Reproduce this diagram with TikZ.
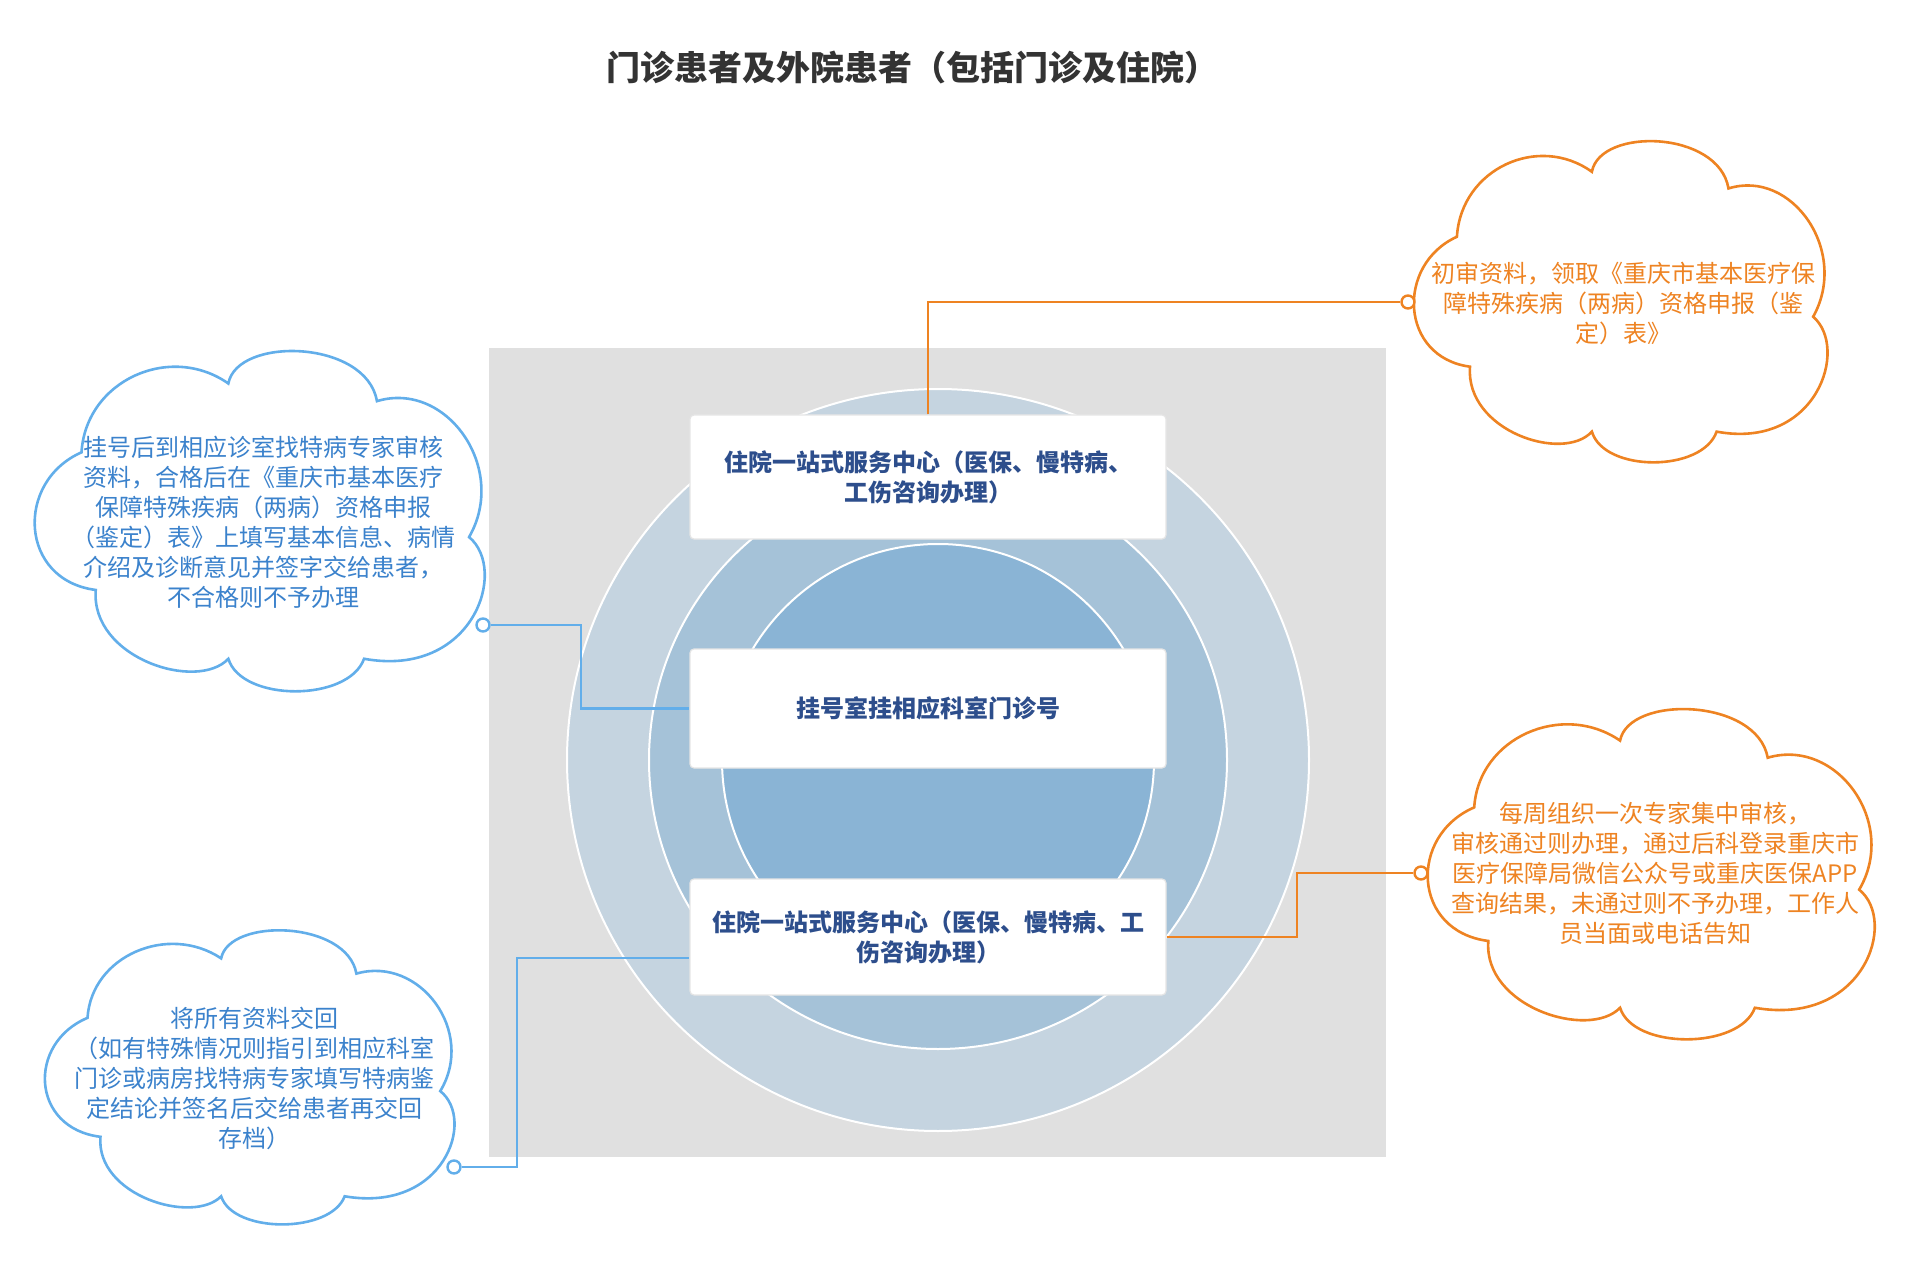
\documentclass[tikz,border=0pt]{standalone}
\usepackage{fontspec}
\setmainfont{Noto Sans CJK SC}
\definecolor{panelgray}{HTML}{E0E0E0}
\definecolor{ringout}{HTML}{C5D4E0}
\definecolor{ringmid}{HTML}{A5C2D8}
\definecolor{ringin}{HTML}{8AB4D5}
\definecolor{boxblue}{HTML}{2D4E8C}
\definecolor{cloudorange}{HTML}{EE8322}
\definecolor{cloudblue}{HTML}{62AEEA}
\definecolor{textblue}{HTML}{3B82CC}
\definecolor{titlegray}{HTML}{333333}
\begin{document}
\begin{tikzpicture}[x=0.5pt, y=0.5pt,
    ring/.style={draw=white, line width=1pt},
    stepbox/.style={fill=white, draw=black!10, line width=0.6pt, rounded corners=2pt,
        minimum width=238pt, align=center, text=boxblue,
        font=\bfseries\fontsize{12}{15}\selectfont},
    cloudline/.style={line width=1.3pt, fill=white},
    cloudtext/.style={align=center, font=\fontsize{12}{15}\selectfont},
    pin/.style={circle, draw, fill=white, line width=1.2pt, inner sep=0pt, minimum size=6.5pt},
    link/.style={line width=1.3pt}]

    \def\cloudpath{(0.10,0.707) .. controls (0.11,0.92) and (0.30,1.03) .. (0.43,0.91)
        .. controls (0.45,1.05) and (0.74,1.04) .. (0.764,0.858)
        .. controls (0.92,0.92) and (1.06,0.66) .. (0.971,0.457)
        .. controls (1.06,0.36) and (0.98,0.04) .. (0.735,0.098)
        .. controls (0.70,-0.03) and (0.46,-0.03) .. (0.43,0.098)
        .. controls (0.36,0.00) and (0.12,0.10) .. (0.132,0.301)
        .. controls (-0.04,0.33) and (-0.05,0.62) .. (0.10,0.707) -- cycle}

    \useasboundingbox (0,0) rectangle (1917,-1262);

    \node[font=\bfseries\fontsize{17}{20}\selectfont, text=titlegray] (title) at (912,-68)
        {门诊患者及外院患者（包括门诊及住院）};

    %background and rings:
    \fill[panelgray] (489,-348) rectangle (1386,-1157);
    \filldraw[ring, fill=ringout] (938,-760) circle (371);
    \filldraw[ring, fill=ringmid] (938,-760) circle (289);
    \filldraw[ring, fill=ringin] (938,-760) circle (216);

    %clouds:
    \draw[cloudline, draw=cloudorange, shift={(1416,-463)}, xscale=409, yscale=320] \cloudpath;
    \draw[cloudline, draw=cloudorange, shift={(1430,-1040)}, xscale=442, yscale=329] \cloudpath;
    \draw[cloudline, draw=cloudblue, shift={(37,-692)}, xscale=445, yscale=339] \cloudpath;
    \draw[cloudline, draw=cloudblue, shift={(47,-1225)}, xscale=405, yscale=293] \cloudpath;

    \node[cloudtext, text=cloudorange] (note1) at (1623,-303)
        {初审资料，领取《重庆市基本医疗保\\障特殊疾病（两病）资格申报（鉴\\定）表》};
    \node[cloudtext, text=cloudorange] (note2) at (1655,-873)
        {每周组织一次专家集中审核，\\审核通过则办理，通过后科登录重庆市\\医疗保障局微信公众号或重庆医保APP\\查询结果，未通过则不予办理，工作人\\员当面或电话告知};
    \node[cloudtext, text=textblue] (note3) at (263,-522)
        {挂号后到相应诊室找特病专家审核\\资料，合格后在《重庆市基本医疗\\保障特殊疾病（两病）资格申报\\（鉴定）表》上填写基本信息、病情\\介绍及诊断意见并签字交给患者，\\不合格则不予办理};
    \node[cloudtext, text=textblue] (note4) at (254,-1078)
        {将所有资料交回\\（如有特殊情况则指引到相应科室\\门诊或病房找特病专家填写特病鉴\\定结论并签名后交给患者再交回\\存档）};

    %steps:
    \node[stepbox, minimum height=62pt] (top) at (928,-477)
        {住院一站式服务中心（医保、慢特病、\\工伤咨询办理）};
    \node[stepbox, minimum height=59.5pt] (mid) at (928,-708.5) {挂号室挂相应科室门诊号};
    \node[stepbox, minimum height=58pt] (bot) at (928,-937)
        {住院一站式服务中心（医保、慢特病、工\\伤咨询办理）};

    %links:
    \node[pin, draw=cloudorange] (pinA) at (1408,-302) {};
    \node[pin, draw=cloudorange] (pinB) at (1421,-873) {};
    \node[pin, draw=cloudblue] (pinC) at (483,-625) {};
    \node[pin, draw=cloudblue] (pinD) at (454,-1167) {};
    \coordinate (ja) at (581,-625);
    \coordinate (jb) at (517,-958);
    \coordinate (jc) at (1297,-873);
    \draw[link, cloudorange] (top.north) |- (pinA.west);
    \draw[link, cloudorange] (bot.east) -| (jc) -- (pinB.west);
    \draw[link, cloudblue] (pinC.east) -- (ja) |- (mid.west);
    \draw[link, cloudblue] (pinD.east) -| (jb) -- (jb -| bot.west);

\end{tikzpicture}
\end{document}
